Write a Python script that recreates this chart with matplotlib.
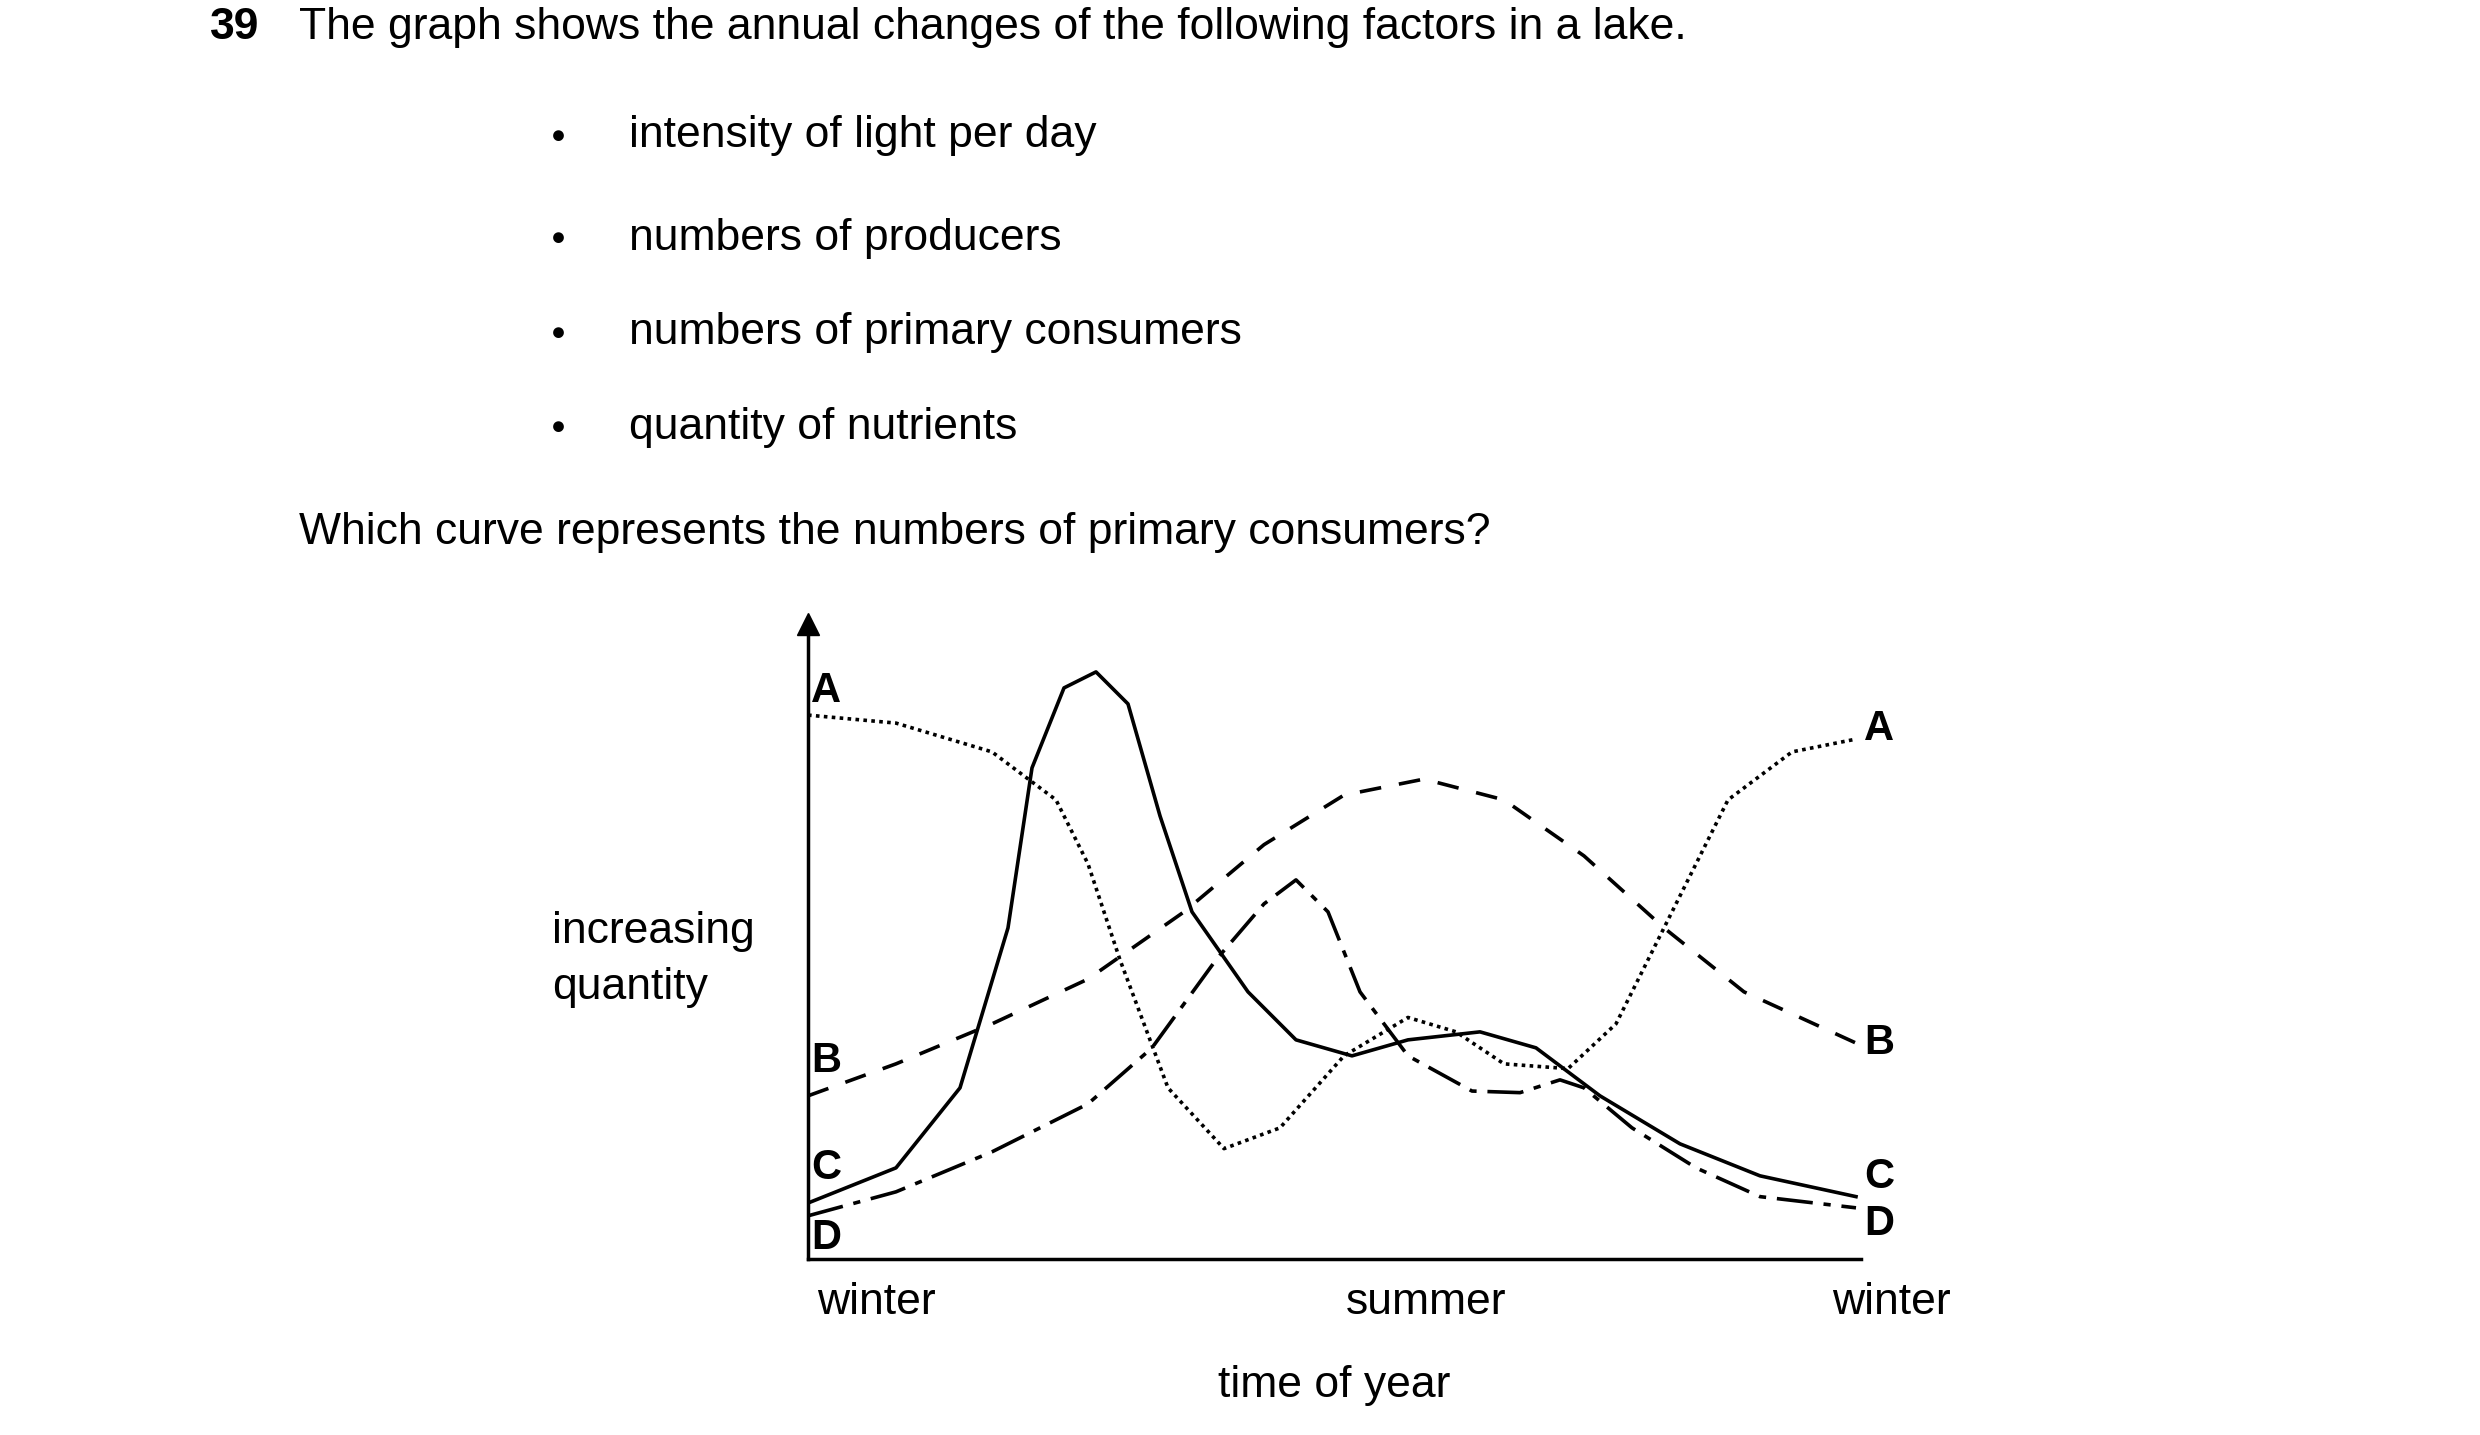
import matplotlib.pyplot as plt

plt.rcParams['font.family'] = ['Liberation Sans', 'DejaVu Sans']

W, H = 1550, 897  # layout grid of the page (reference in display units)

# curve readings: x = time along the year (0..658), y = quantity (0..397)
a_x = [0, 55, 115, 155, 175, 195, 225, 260, 295, 335, 375, 405, 435, 475, 505, 545, 575, 615, 655]
a_y = [340, 335, 317, 287, 247, 187, 107, 69, 82, 127, 151, 142, 122, 119, 147, 227, 287, 317, 325]
b_x = [0, 55, 115, 175, 235, 285, 335, 385, 435, 485, 535, 585, 655]
b_y = [102, 122, 147, 175, 217, 259, 290, 300, 287, 252, 207, 167, 135]
c_x = [0, 55, 95, 125, 140, 160, 180, 200, 220, 240, 275, 305, 340, 375, 420, 455, 495, 545, 595, 655]
c_y = [35, 57, 107, 207, 307, 357, 367, 347, 277, 217, 167, 137, 127, 137, 142, 132, 102, 72, 52, 39]
d_x = [0, 55, 115, 175, 215, 255, 285, 305, 325, 345, 375, 415, 445, 470, 485, 515, 555, 595, 655]
d_y = [27, 42, 67, 97, 132, 187, 222, 237, 217, 167, 127, 105, 104, 112, 107, 82, 57, 39, 32]

bullets = ['intensity of light per day', 'numbers of producers',
           'numbers of primary consumers', 'quantity of nutrients']
season_labels = ['winter', 'summer', 'winter']

fig = plt.figure(figsize=(24.8, 14.35), dpi=100)

def t(x, y, s, **kw):
    fig.text(x / W, 1 - y / H, s, va='center', **kw)

fs = 32
t(131, 17, '39', fontsize=fs, fontweight='bold')
t(187, 17, 'The graph shows the annual changes of the following factors in a lake.', fontsize=fs)
for yy, s in zip([85, 149, 208, 267], bullets):
    t(344, yy, '\u25CF', fontsize=18)
    t(393, yy, s, fontsize=fs)
t(187, 333, 'Which curve represents the numbers of primary consumers?', fontsize=fs)
t(345, 582, 'increasing', fontsize=fs)
t(345, 617, 'quantity', fontsize=fs)
for xx, s in zip([548, 891, 1182], season_labels):
    t(xx, 814, s, fontsize=fs, ha='center')
t(834, 866, 'time of year', fontsize=fs, ha='center')

ax = fig.add_axes([505 / W, 1 - 787 / H, 658 / W, 397 / H])
ax.set_xlim(0, 658)
ax.set_ylim(0, 397)
for sp in ['top', 'right']:
    ax.spines[sp].set_visible(False)
for sp in ['left', 'bottom']:
    ax.spines[sp].set_linewidth(2.5)
ax.set_xticks([])
ax.set_yticks([])
ax.plot(0, 1, marker='^', color='k', markersize=16, transform=ax.transAxes, clip_on=False)

lw = 2.6
ax.plot(a_x, a_y, color='k', lw=lw, linestyle=(0, (1, 1.2)))
ax.plot(b_x, b_y, color='k', lw=lw, linestyle=(0, (6, 5)))
ax.plot(c_x, c_y, color='k', lw=lw)
ax.plot(d_x, d_y, color='k', lw=lw, linestyle=(0, (10, 3, 2, 3)))

lab = dict(fontsize=30, fontweight='bold', va='center')
ax.text(2, a_y[0] + 15, 'A', **lab)
ax.text(2, b_y[0] + 22, 'B', **lab)
ax.text(2, c_y[0] + 22, 'C', **lab)
ax.text(2, 13, 'D', **lab)
ax.text(660, 331, 'A', **lab)
ax.text(660, 135, 'B', **lab)
ax.text(660, 51, 'C', **lab)
ax.text(660, 22, 'D', **lab)

fig.savefig('out.png', dpi=100, facecolor='white')
